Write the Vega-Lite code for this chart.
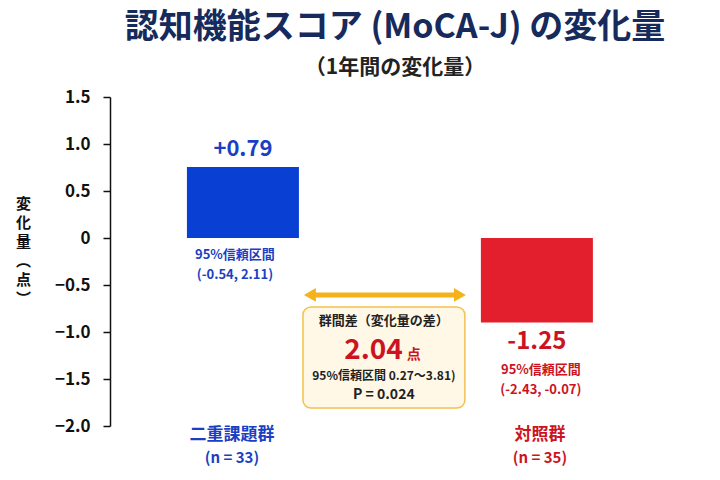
{
  "$schema": "https://vega.github.io/schema/vega-lite/v6.json",
  "width": 570,
  "height": 329,
  "autosize": {"type": "none"},
  "padding": {"left": 110, "top": 97, "right": 40, "bottom": 54},
  "background": "white",
  "title": {
    "text": "認知機能スコア (MoCA-J) の変化量",
    "subtitle": "（1年間の変化量）",
    "anchor": "middle",
    "fontSize": 34,
    "fontWeight": "bold",
    "color": "#162a5c",
    "subtitleFontSize": 21,
    "subtitleFontWeight": "bold",
    "subtitleColor": "#222222",
    "subtitlePadding": 12,
    "offset": 10
  },
  "config": {
    "font": "Noto Sans CJK JP",
    "view": {"stroke": null}
  },
  "datasets": {
    "groups": [
      {"group": "二重課題群", "change": 0.755, "label": "+0.79", "ci": "(-0.54, 2.11)", "n": "(n = 33)"},
      {"group": "対照群", "change": -0.9, "label": "-1.25", "ci": "(-2.43, -0.07)", "n": "(n = 35)"}
    ],
    "diff": [
      {"title": "群間差（変化量の差）", "diff": "2.04", "unit": "点", "ci": "95%信頼区間 0.27〜3.81)", "p": "P = 0.024"}
    ]
  },
  "data": {"name": "groups"},
  "encoding": {
    "x": {
      "field": "group",
      "type": "nominal",
      "scale": {
        "domain": ["二重課題群", "群間差", "対照群"],
        "paddingInner": 0.238,
        "paddingOuter": 0.558,
        "align": 0.469
      },
      "axis": null
    }
  },
  "layer": [
    {
      "mark": {"type": "bar"},
      "encoding": {
        "y": {
          "field": "change",
          "type": "quantitative",
          "scale": {"domain": [-2, 1.5], "nice": false, "zero": false},
          "axis": {
            "values": [-2, -1.5, -1, -0.5, 0, 0.5, 1, 1.5],
            "labelExpr": "datum.value == 0 ? '0' : format(datum.value, '.1f')",
            "grid": false,
            "labelFontSize": 17,
            "labelFontWeight": "bold",
            "labelColor": "#111111",
            "labelPadding": 13,
            "tickSize": 7,
            "tickWidth": 1.5,
            "tickColor": "#111111",
            "domainColor": "#111111",
            "domainWidth": 1.5,
            "title": ["変", "化", "量", "︵", "点", "︶"],
            "titleAngle": 0,
            "titleFontSize": 15,
            "titleFontWeight": "bold",
            "titleColor": "#111111",
            "titleLineHeight": 19,
            "titleAlign": "center",
            "titleBaseline": "middle",
            "titleX": -87,
            "titleY": 106
          }
        },
        "y2": {"datum": 0},
        "color": {
          "field": "group",
          "type": "nominal",
          "scale": {"domain": ["二重課題群", "対照群"], "range": ["#0a3fd4", "#e31e2d"]},
          "legend": null
        }
      }
    },
    {
      "mark": {"type": "rule", "color": "#111111", "strokeWidth": 2},
      "encoding": {"y": {"datum": 0}}
    },
    {
      "transform": [{"filter": "datum.group === '二重課題群'"}],
      "mark": {"type": "text", "fontSize": 22, "fontWeight": "bold", "color": "#1b3fc4", "baseline": "alphabetic", "dy": -11},
      "encoding": {"y": {"field": "change", "type": "quantitative"}, "text": {"field": "label"}}
    },
    {
      "transform": [{"filter": "datum.group === '対照群'"}],
      "mark": {"type": "text", "fontSize": 24, "fontWeight": "bold", "color": "#cc1421", "baseline": "alphabetic", "dy": 26},
      "encoding": {"y": {"field": "change", "type": "quantitative"}, "text": {"field": "label"}}
    },
    {
      "transform": [{"filter": "datum.group === '二重課題群'"}],
      "mark": {"type": "text", "fontSize": 13, "fontWeight": "bold", "color": "#1b3fc4", "baseline": "middle", "dx": -8, "text": "95%信頼区間"},
      "encoding": {"y": {"datum": -0.181}}
    },
    {
      "transform": [{"filter": "datum.group === '二重課題群'"}],
      "mark": {"type": "text", "fontSize": 13, "fontWeight": "bold", "color": "#1b3fc4", "baseline": "middle", "dx": -8},
      "encoding": {"y": {"datum": -0.394}, "text": {"field": "ci"}}
    },
    {
      "transform": [{"filter": "datum.group === '対照群'"}],
      "mark": {"type": "text", "fontSize": 13, "fontWeight": "bold", "color": "#cc1421", "baseline": "middle", "dx": 4, "text": "95%信頼区間"},
      "encoding": {"y": {"datum": -1.404}}
    },
    {
      "transform": [{"filter": "datum.group === '対照群'"}],
      "mark": {"type": "text", "fontSize": 13, "fontWeight": "bold", "color": "#cc1421", "baseline": "middle", "dx": 4},
      "encoding": {"y": {"datum": -1.617}, "text": {"field": "ci"}}
    },
    {
      "transform": [{"filter": "datum.group === '二重課題群'"}],
      "mark": {"type": "text", "fontSize": 17, "fontWeight": "bold", "color": "#1b3fc4", "baseline": "middle", "dx": -11},
      "encoding": {"y": {"datum": -2.096}, "text": {"field": "group"}}
    },
    {
      "transform": [{"filter": "datum.group === '二重課題群'"}],
      "mark": {"type": "text", "fontSize": 15, "fontWeight": "bold", "color": "#1b3fc4", "baseline": "middle", "dx": -11},
      "encoding": {"y": {"datum": -2.34}, "text": {"field": "n"}}
    },
    {
      "transform": [{"filter": "datum.group === '対照群'"}],
      "mark": {"type": "text", "fontSize": 17, "fontWeight": "bold", "color": "#cc1421", "baseline": "middle", "dx": 3},
      "encoding": {"y": {"datum": -2.096}, "text": {"field": "group"}}
    },
    {
      "transform": [{"filter": "datum.group === '対照群'"}],
      "mark": {"type": "text", "fontSize": 15, "fontWeight": "bold", "color": "#cc1421", "baseline": "middle", "dx": 3},
      "encoding": {"y": {"datum": -2.34}, "text": {"field": "n"}}
    },
    {
      "data": {"name": "diff"},
      "mark": {"type": "rule", "color": "#f5b21a", "strokeWidth": 5},
      "encoding": {
        "x": {"datum": "二重課題群", "type": "nominal", "bandPosition": 1.098},
        "x2": {"datum": "対照群", "bandPosition": -0.1875},
        "y": {"datum": -0.606}
      }
    },
    {
      "data": {"name": "diff"},
      "mark": {"type": "point", "shape": "triangle-left", "filled": true, "color": "#f5b21a", "size": 190, "opacity": 1},
      "encoding": {
        "x": {"datum": "二重課題群", "type": "nominal", "bandPosition": 1.098},
        "y": {"datum": -0.606}
      }
    },
    {
      "data": {"name": "diff"},
      "mark": {"type": "point", "shape": "triangle-right", "filled": true, "color": "#f5b21a", "size": 190, "opacity": 1},
      "encoding": {
        "x": {"datum": "対照群", "type": "nominal", "bandPosition": -0.1875},
        "y": {"datum": -0.606}
      }
    },
    {
      "data": {"name": "diff"},
      "mark": {"type": "rect", "fill": "#fff8e6", "stroke": "#f2c14e", "strokeWidth": 1.5, "cornerRadius": 8},
      "encoding": {
        "x": {"datum": "二重課題群", "type": "nominal", "bandPosition": 1.036},
        "x2": {"datum": "対照群", "bandPosition": -0.143},
        "y": {"datum": -0.734},
        "y2": {"datum": -1.809}
      }
    },
    {
      "data": {"name": "diff"},
      "mark": {"type": "text", "fontSize": 13, "fontWeight": "bold", "color": "#222222", "baseline": "middle"},
      "encoding": {
        "x": {"datum": "群間差", "type": "nominal", "bandPosition": 0.446},
        "y": {"datum": -0.883},
        "text": {"field": "title"}
      }
    },
    {
      "data": {"name": "diff"},
      "mark": {"type": "text", "fontSize": 28, "fontWeight": "bold", "color": "#cc1421", "baseline": "alphabetic", "align": "right", "dx": 19},
      "encoding": {
        "x": {"datum": "群間差", "type": "nominal", "bandPosition": 0.446},
        "y": {"datum": -1.287},
        "text": {"field": "diff"}
      }
    },
    {
      "data": {"name": "diff"},
      "mark": {"type": "text", "fontSize": 14, "fontWeight": "bold", "color": "#cc1421", "baseline": "alphabetic", "align": "left", "dx": 23},
      "encoding": {
        "x": {"datum": "群間差", "type": "nominal", "bandPosition": 0.446},
        "y": {"datum": -1.287},
        "text": {"field": "unit"}
      }
    },
    {
      "data": {"name": "diff"},
      "mark": {"type": "text", "fontSize": 12, "fontWeight": "bold", "color": "#222222", "baseline": "middle"},
      "encoding": {
        "x": {"datum": "群間差", "type": "nominal", "bandPosition": 0.446},
        "y": {"datum": -1.468},
        "text": {"field": "ci"}
      }
    },
    {
      "data": {"name": "diff"},
      "mark": {"type": "text", "fontSize": 14, "fontWeight": "bold", "color": "#222222", "baseline": "middle"},
      "encoding": {
        "x": {"datum": "群間差", "type": "nominal", "bandPosition": 0.446},
        "y": {"datum": -1.672},
        "text": {"field": "p"}
      }
    }
  ]
}
